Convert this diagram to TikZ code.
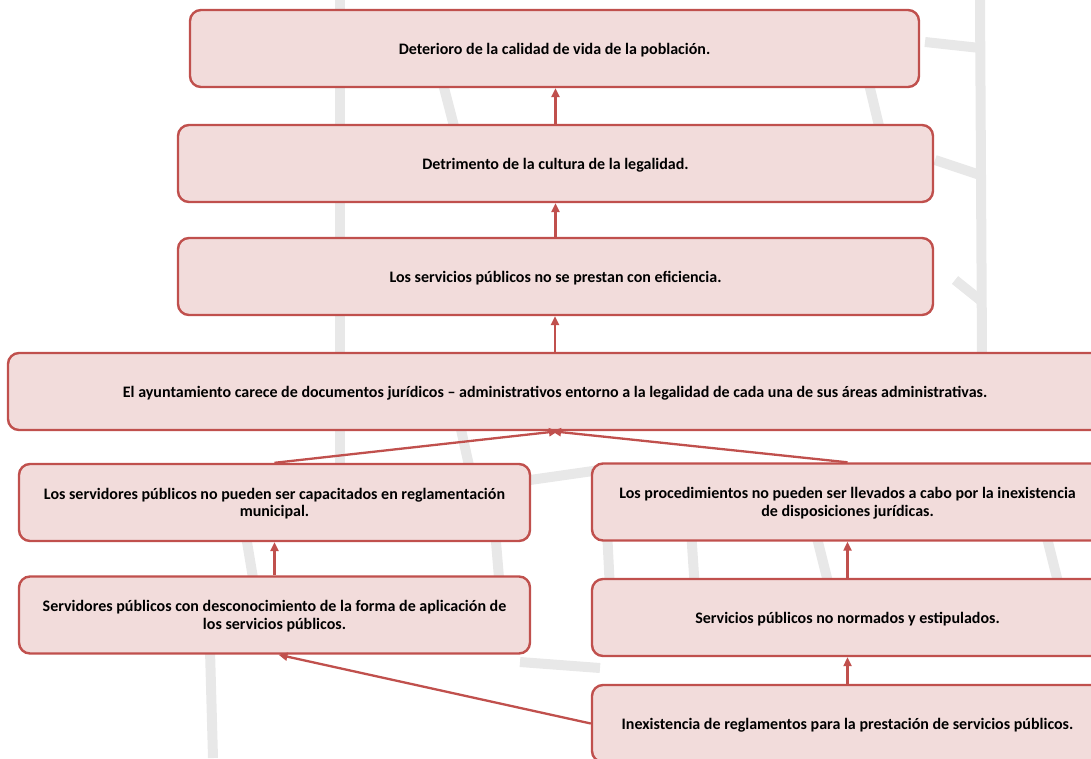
\documentclass[tikz,border=0pt]{standalone}
\usepackage{fontspec}
\setmainfont{Carlito}
\usetikzlibrary{arrows.meta}
\definecolor{boxfill}{HTML}{F2DCDB}
\definecolor{boxline}{HTML}{C0504D}
\begin{document}
\begin{tikzpicture}[x=1pt,y=-1pt,
  box/.style={draw=boxline, fill=boxfill, line width=2.4pt, rounded corners=11pt,
    inner sep=0pt, align=center, minimum height=77pt, text depth=0pt,
    font=\fontsize{16}{17.5}\selectfont\bfseries},
  conn/.style={draw=boxline, line width=2.3pt, -{Triangle[length=9pt,width=8pt]}},
  wm/.style={draw=black!9, line width=10pt}]
\useasboundingbox (0,0) rectangle (1091,758);
\clip (0,0) rectangle (1091,758);
% faint background watermark
\draw[wm] (340,0) -- (340,470);
\draw[wm] (442,80) -- (455,130);
\draw[wm] (868,80) -- (880,130);
\draw[wm] (980,0) -- (982,355);
\draw[wm] (925,42) -- (980,48);
\draw[wm] (935,160) -- (980,175);
\draw[wm] (955,280) -- (980,300);
\draw[wm] (460,425) -- (470,470);
\draw[wm] (530,480) -- (600,470);
\draw[wm] (245,530) -- (255,590);
\draw[wm] (495,530) -- (500,590);
\draw[wm] (607,530) -- (610,590);
\draw[wm] (691,530) -- (695,590);
\draw[wm] (815,530) -- (830,590);
\draw[wm] (1045,530) -- (1060,590);
\draw[wm] (210,650) -- (213,758);
\draw[wm] (520,662) -- (600,668);
% boxes
\node[box, minimum width=729pt] (n1) at (554.5,48.5) {Deterioro de la calidad de vida de la población.};
\node[box, minimum width=755pt] (n2) at (555.5,163.5) {Detrimento de la cultura de la legalidad.};
\node[box, minimum width=755pt] (n3) at (555.5,276.5) {Los servicios públicos no se prestan con eficiencia.};
\node[box, minimum width=1094pt] (n4) at (555,391.5) {El ayuntamiento carece de documentos jurídicos – administrativos entorno a la legalidad de cada una de sus áreas administrativas.};
\node[box, minimum width=511pt] (n5) at (274.5,502.5) {Los servidores públicos no pueden ser capacitados en reglamentación\\municipal.};
\node[box, minimum width=511pt] (n6) at (847.5,502) {Los procedimientos no pueden ser llevados a cabo por la inexistencia\\de disposiciones jurídicas.};
\node[box, minimum width=511pt] (n7) at (274.5,615) {Servidores públicos con desconocimiento de la forma de aplicación de\\los servicios públicos.};
\node[box, minimum width=511pt] (n8) at (847.5,617.5) {Servicios públicos no normados y estipulados.};
\node[box, minimum width=511pt] (n9) at (847.5,723.5) {Inexistencia de reglamentos para la prestación de servicios públicos.};
% connectors
\draw[conn] (n2.north) -- (n2.north |- n1.south);
\draw[conn] (n3.north) -- (n3.north |- n2.south);
\draw[conn] (n4.north) -- (n4.north |- n3.south);
\draw[conn] (n5.north) -- ([xshift=3pt]n4.south);
\draw[conn] (n6.north) -- ([xshift=-3pt]n4.south);
\draw[conn] (n7.north) -- (n5.south);
\draw[conn] (n8.north) -- (n6.south);
\draw[conn] (n9.north) -- (n8.south);
\draw[conn] (n9.west) -- ([xshift=4pt]n7.south);
\end{tikzpicture}
\end{document}
